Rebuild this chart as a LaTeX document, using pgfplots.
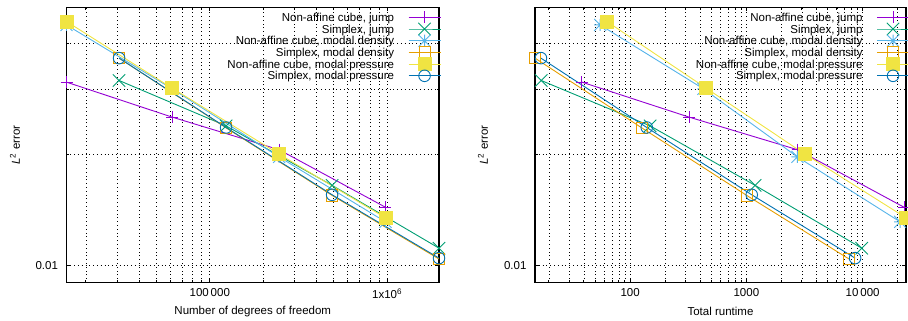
\documentclass[border=0pt]{standalone}
\usepackage{fontspec}
\setmainfont{Liberation Sans}
\usepackage{pgfplots}
\pgfplotsset{compat=1.18}
\definecolor{gppurple}{HTML}{9400D3}
\definecolor{gpgreen}{HTML}{009E73}
\definecolor{gplblue}{HTML}{56B4E9}
\definecolor{gporange}{HTML}{E69F00}
\definecolor{gpyellow}{HTML}{F0E442}
\definecolor{gpblue}{HTML}{0072B2}
\pgfdeclareplotmark{gpstar}{%
 \pgfpathmoveto{\pgfqpoint{-\pgfplotmarksize}{0pt}}\pgfpathlineto{\pgfqpoint{\pgfplotmarksize}{0pt}}%
 \pgfpathmoveto{\pgfqpoint{0pt}{-\pgfplotmarksize}}\pgfpathlineto{\pgfqpoint{0pt}{\pgfplotmarksize}}%
 \pgfpathmoveto{\pgfqpoint{-\pgfplotmarksize}{-\pgfplotmarksize}}\pgfpathlineto{\pgfqpoint{\pgfplotmarksize}{\pgfplotmarksize}}%
 \pgfpathmoveto{\pgfqpoint{-\pgfplotmarksize}{\pgfplotmarksize}}\pgfpathlineto{\pgfqpoint{\pgfplotmarksize}{-\pgfplotmarksize}}%
 \pgfusepathqstroke}
\pgfdeclareplotmark{gpx}{%
 \pgfpathmoveto{\pgfqpoint{-\pgfplotmarksize}{-\pgfplotmarksize}}\pgfpathlineto{\pgfqpoint{\pgfplotmarksize}{\pgfplotmarksize}}%
 \pgfpathmoveto{\pgfqpoint{-\pgfplotmarksize}{\pgfplotmarksize}}\pgfpathlineto{\pgfqpoint{\pgfplotmarksize}{-\pgfplotmarksize}}%
 \pgfusepathqstroke}
\pgfplotsset{
 s1/.style={color=gppurple, mark=+, mark size=6pt, mark options={solid}},
 s2/.style={color=gpgreen, mark=gpx, mark size=6.2pt, mark options={solid}},
 s3/.style={color=gplblue, mark=gpstar, mark size=6pt, mark options={solid}},
 s4/.style={color=gporange, mark=square, mark size=5.6pt, mark options={solid}},
 s5/.style={color=gpyellow, mark=square*, mark size=6.5pt, mark options={solid, fill=gpyellow}},
 s6/.style={color=gpblue, mark=o, mark size=5.8pt, mark options={solid}},
}
\begin{document}
\begin{tikzpicture}
\useasboundingbox (0,0) rectangle (908pt,321pt);
\begin{axis}[at={(66.5pt,38.3pt)}, anchor=south west, width=372.5pt,
  scale only axis, xmode=log, ymode=log, height=275.4pt,
  ymin=0.009, ymax=0.05,
  ytick={0.01}, yticklabels={0.01}, minor ytick={0.02,0.03,0.04},
  grid=both,
  major grid style={black, line width=0.6pt, dash pattern=on 0.8pt off 3pt},
  minor grid style={black, line width=0.6pt, dash pattern=on 0.8pt off 3pt},
  axis line style={black, line width=1.2pt},
  tick style={black, line width=0.8pt},
  major tick length=4pt, minor tick length=2.5pt, tick align=inside,
  font=\fontsize{11.5}{13.8}\selectfont,
  /pgf/number format/assume math mode=true,
  xticklabel style={yshift=-2.7pt},
  yticklabel style={xshift=-5pt},
  xlabel style={at={(axis description cs:0.5,0)}, anchor=center, yshift=-29pt},
  ylabel={\textit{L}\textsuperscript{2} error},
  every axis plot/.append style={line width=0.9pt},
  legend plot pos=right,
  legend cell align=right,
  legend image code/.code={%
    \draw[overlay,mark repeat=2,mark phase=2,#1] plot coordinates {(0pt,0pt) (16pt,0pt) (32pt,0pt)};
    \path (0pt,0pt) (32pt,0pt);},
  legend style={draw=none, fill=none, at={(rel axis cs:1,1)}, anchor=north east,
    xshift=2pt, yshift=-4.15pt, inner sep=0pt, outer sep=0pt, row sep=0pt, column sep=14pt,
    font=\fontsize{11.5}{13.8}\selectfont,
    nodes={inner sep=0pt, text height=9.95pt, text depth=1.75pt}},
  xmin=15560, xmax=1963000,
  xtick={100000,1000000}, xticklabels={100\,000, 1x10\textsuperscript{6}},
  minor xtick={20000,30000,40000,50000,60000,70000,80000,90000,200000,300000,400000,500000,600000,700000,800000,900000},
  xlabel={Number of degrees of freedom},
  ylabel style={at={(axis description cs:-0.1383,0.5)}, anchor=center}]
\addplot[s1] coordinates {(15560,0.03138) (61300,0.02524) (246000,0.0206) (979000,0.0144)};
\addlegendentry{Non-affine cube, jump}
\addplot[s2] coordinates {(30800,0.0317) (123600,0.0239) (489800,0.0165) (1963000,0.01116)};
\addlegendentry{Simplex, jump}
\addplot[s3] coordinates {(15560,0.0448) (61300,0.0301) (246000,0.0197) (979000,0.01315)};
\addlegendentry{Non-affine cube, modal density}
\addplot[s4] coordinates {(30800,0.03644) (123600,0.0236) (489800,0.0155) (1963000,0.01043)};
\addlegendentry{Simplex, modal density}
\addplot[s5] coordinates {(15560,0.04578) (61300,0.03023) (246000,0.02005) (979000,0.01348)};
\addlegendentry{Non-affine cube, modal pressure}
\addplot[s6] coordinates {(30800,0.03644) (123600,0.02366) (489800,0.01556) (1963000,0.01049)};
\addlegendentry{Simplex, modal pressure}
\end{axis}
\begin{axis}[at={(535pt,38.3pt)}, anchor=south west, width=371pt,
  scale only axis, xmode=log, ymode=log, height=275.4pt,
  ymin=0.009, ymax=0.05,
  ytick={0.01}, yticklabels={0.01}, minor ytick={0.02,0.03,0.04},
  grid=both,
  major grid style={black, line width=0.6pt, dash pattern=on 0.8pt off 3pt},
  minor grid style={black, line width=0.6pt, dash pattern=on 0.8pt off 3pt},
  axis line style={black, line width=1.2pt},
  tick style={black, line width=0.8pt},
  major tick length=4pt, minor tick length=2.5pt, tick align=inside,
  font=\fontsize{11.5}{13.8}\selectfont,
  /pgf/number format/assume math mode=true,
  xticklabel style={yshift=-2.7pt},
  yticklabel style={xshift=-5pt},
  xlabel style={at={(axis description cs:0.5,0)}, anchor=center, yshift=-29pt},
  ylabel={\textit{L}\textsuperscript{2} error},
  every axis plot/.append style={line width=0.9pt},
  legend plot pos=right,
  legend cell align=right,
  legend image code/.code={%
    \draw[overlay,mark repeat=2,mark phase=2,#1] plot coordinates {(0pt,0pt) (16pt,0pt) (32pt,0pt)};
    \path (0pt,0pt) (32pt,0pt);},
  legend style={draw=none, fill=none, at={(rel axis cs:1,1)}, anchor=north east,
    xshift=3.5pt, yshift=-4.15pt, inner sep=0pt, outer sep=0pt, row sep=0pt, column sep=14pt,
    font=\fontsize{11.5}{13.8}\selectfont,
    nodes={inner sep=0pt, text height=9.95pt, text depth=1.75pt}},
  xmin=15.2, xmax=23600,
  xtick={100,1000,10000}, xticklabels={100, 1000, 10\,000},
  minor xtick={20,30,40,50,60,70,80,90,200,300,400,500,600,700,800,900,2000,3000,4000,5000,6000,7000,8000,9000,20000},
  xlabel={Total runtime},
  ylabel style={at={(axis description cs:-0.140,0.5)}, anchor=center}]
\addplot[s1] coordinates {(38.5,0.03138) (321,0.02524) (2754,0.0206) (22700,0.0144)};
\addlegendentry{Non-affine cube, jump}
\addplot[s2] coordinates {(17.2,0.0317) (148.6,0.0239) (1188,0.0165) (9820,0.01116)};
\addlegendentry{Simplex, jump}
\addplot[s3] coordinates {(55.2,0.0448) (427,0.0301) (2748,0.0197) (21000,0.01315)};
\addlegendentry{Non-affine cube, modal density}
\addplot[s4] coordinates {(15.2,0.03644) (126,0.0236) (1007,0.0155) (7640,0.01043)};
\addlegendentry{Simplex, modal density}
\addplot[s5] coordinates {(63.1,0.04578) (450,0.03023) (3185,0.02005) (23600,0.01348)};
\addlegendentry{Non-affine cube, modal pressure}
\addplot[s6] coordinates {(17.1,0.03644) (139,0.02366) (1112,0.01556) (8610,0.01049)};
\addlegendentry{Simplex, modal pressure}
\end{axis}
\end{tikzpicture}
\end{document}
